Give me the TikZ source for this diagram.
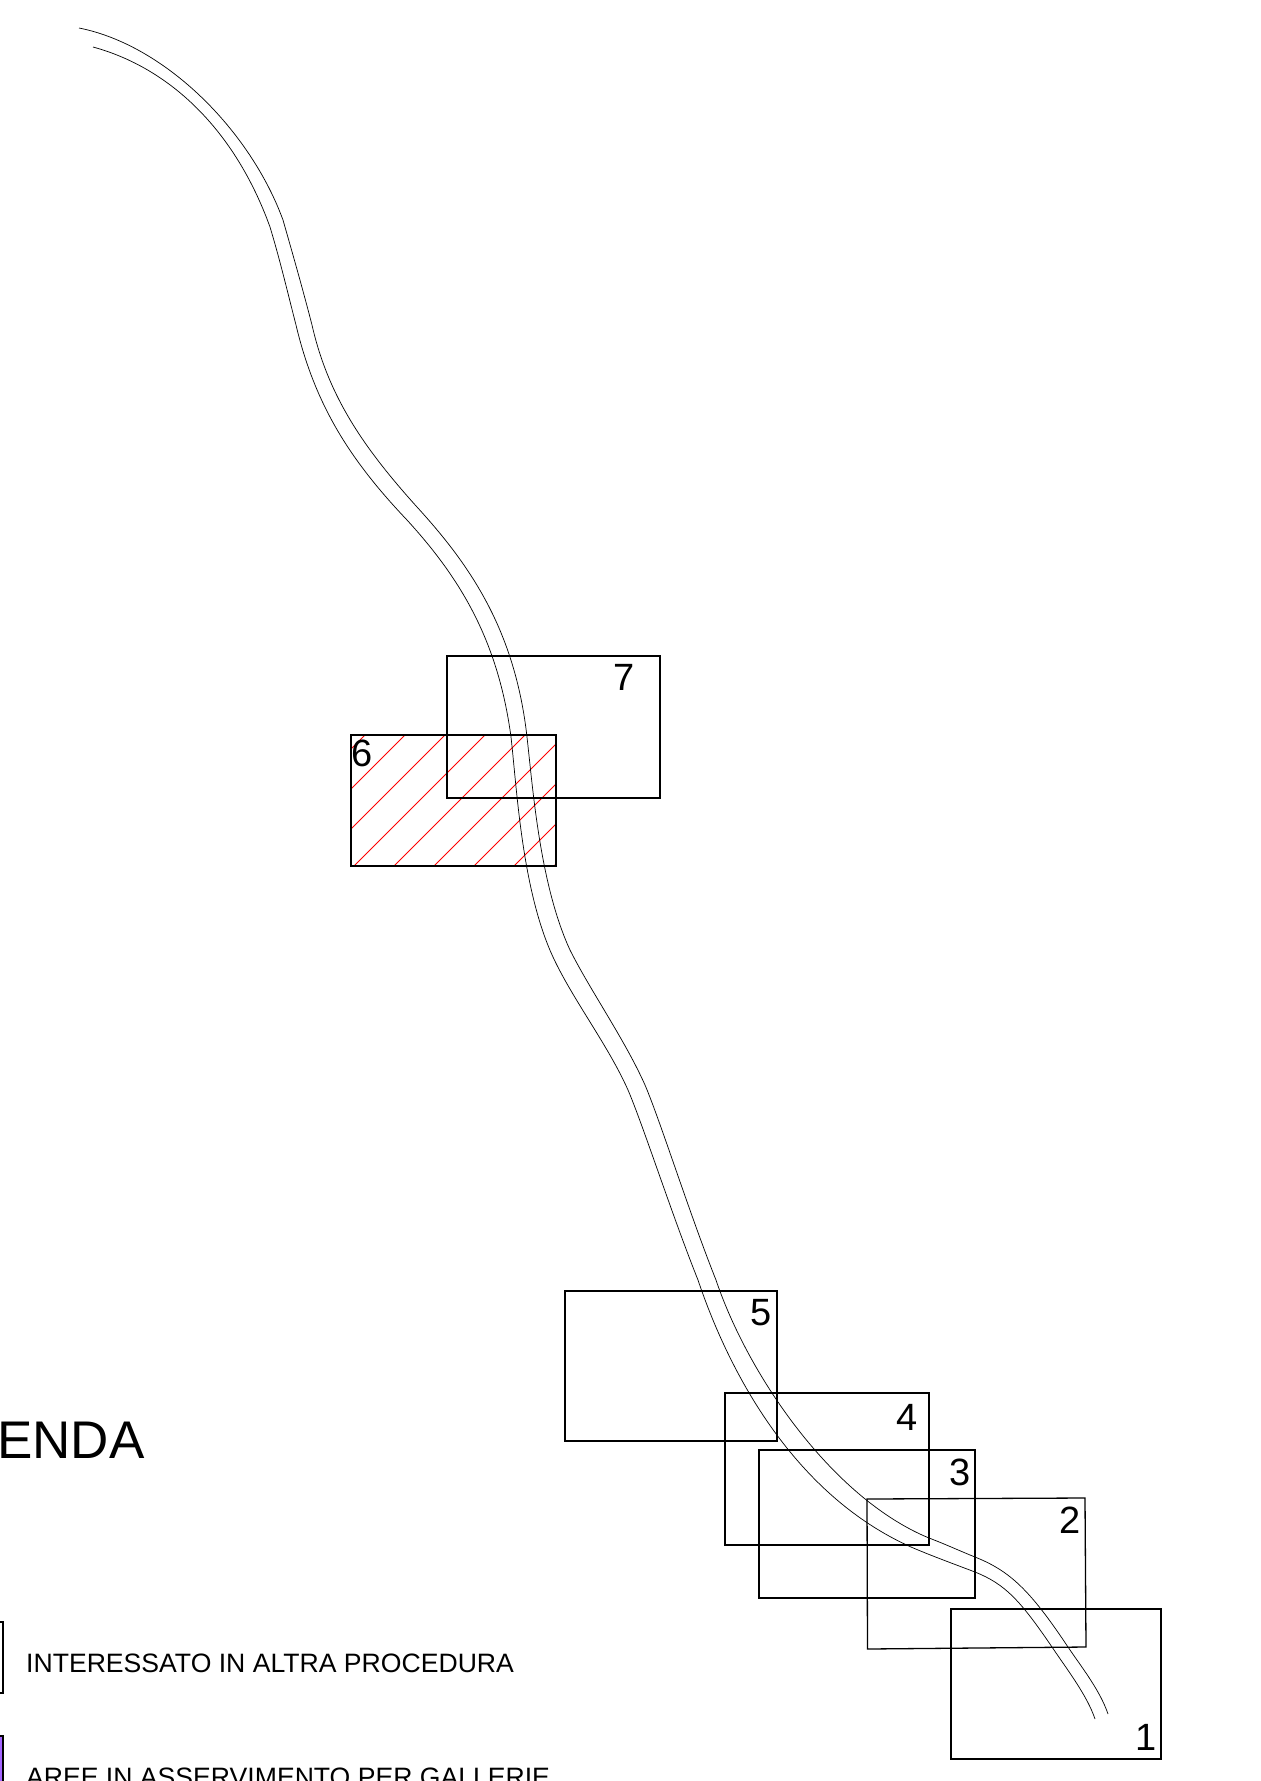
\documentclass[tikz,border=0pt]{standalone}
\usepackage{fontspec}
\setmainfont{Liberation Sans}
\definecolor{asservcol}{HTML}{A566FF}
\tikzset{
    zonebox/.style={draw=black,line width=1.3pt},
    roadline/.style={black,line width=0.7pt},
    hatchline/.style={red,line width=0.8pt},
    zonenum/.style={font=\fontsize{38}{38}\selectfont,inner sep=0pt},
    legendtext/.style={font=\fontsize{26.6}{27}\selectfont,anchor=base west,inner sep=0pt}
}
\begin{document}
\begin{tikzpicture}[x=1pt,y=-1pt]
        \useasboundingbox (0,0) rectangle (1261,1781);
        % hatching of zone 6
        \begin{scope}
            \clip (351,735) rectangle (556,866);
            \foreach \s in {1100,1140,...,1420}
                \draw[hatchline] (\s-1000,1000) -- (\s,0);
        \end{scope}
        \draw[zonebox] (351,735) rectangle (556,866);
        \draw[zonebox] (447,656) rectangle (660,798);
        \draw[zonebox] (565,1291) rectangle (777,1441);
        \draw[zonebox] (725,1393) rectangle (929,1545);
        \draw[zonebox] (759,1450) rectangle (975,1598);
        \draw[zonebox] (867,1499) -- (1085,1498) -- (1086,1647) -- (867.5,1649) -- cycle;
        \draw[zonebox] (951,1609) rectangle (1161,1759);
        % road
        \draw[roadline] (79,28) .. controls (165,45) and (250,130) .. (283,220)
            .. controls (293,255) and (303,290) .. (312,325)
            .. controls (328,395) and (362,446) .. (417,507)
            .. controls (470,565) and (515,630) .. (527,737)
            .. controls (533,790) and (540,885) .. (570,950)
            .. controls (590,990) and (625,1040) .. (645,1085)
            .. controls (660,1120) and (690,1215) .. (716,1280)
            .. controls (748,1375) and (832,1498) .. (929,1538)
            .. controls (945,1544) and (960,1551) .. (975,1557)
            .. controls (1010,1571) and (1030,1590) .. (1068,1647)
            .. controls (1080,1665) and (1100,1690) .. (1108,1714);
        \draw[roadline] (93,47) .. controls (170,68) and (235,130) .. (270,227)
            .. controls (280,260) and (287,290) .. (296,325)
            .. controls (315,405) and (350,460) .. (407,520)
            .. controls (460,578) and (498,640) .. (511,737)
            .. controls (517,790) and (522,890) .. (553,957)
            .. controls (573,1000) and (608,1045) .. (628,1090)
            .. controls (643,1125) and (672,1215) .. (698,1280)
            .. controls (730,1375) and (795,1495) .. (911,1547)
            .. controls (932,1556) and (954,1564) .. (975,1572)
            .. controls (1005,1584) and (1020,1600) .. (1052,1647)
            .. controls (1066,1668) and (1087,1695) .. (1095,1719);
        % numbers
        \node[zonenum] (num1) at (1146,1737) {1};
        \node[zonenum] (num2) at (1070,1520) {2};
        \node[zonenum] (num3) at (960,1472) {3};
        \node[zonenum] (num4) at (907,1417) {4};
        \node[zonenum] (num5) at (761,1313) {5};
        \node[zonenum] (num6) at (362,753) {6};
        \node[zonenum] (num7) at (624,677) {7};
        % legend
        \node[anchor=base west,inner sep=0pt,font=\fontsize{53}{53}\selectfont] (legtitle) at (-3,1458) {ENDA};
        \draw[zonebox] (-10,1622) rectangle (3,1693);
        \draw[zonebox,fill=asservcol] (-10,1736) rectangle (3,1800);
        \node[legendtext] (legone) at (26,1672) {INTERESSATO IN ALTRA PROCEDURA};
        \node[legendtext] (legtwo) at (26,1786) {AREE IN ASSERVIMENTO PER GALLERIE};
    \end{tikzpicture}
\end{document}
